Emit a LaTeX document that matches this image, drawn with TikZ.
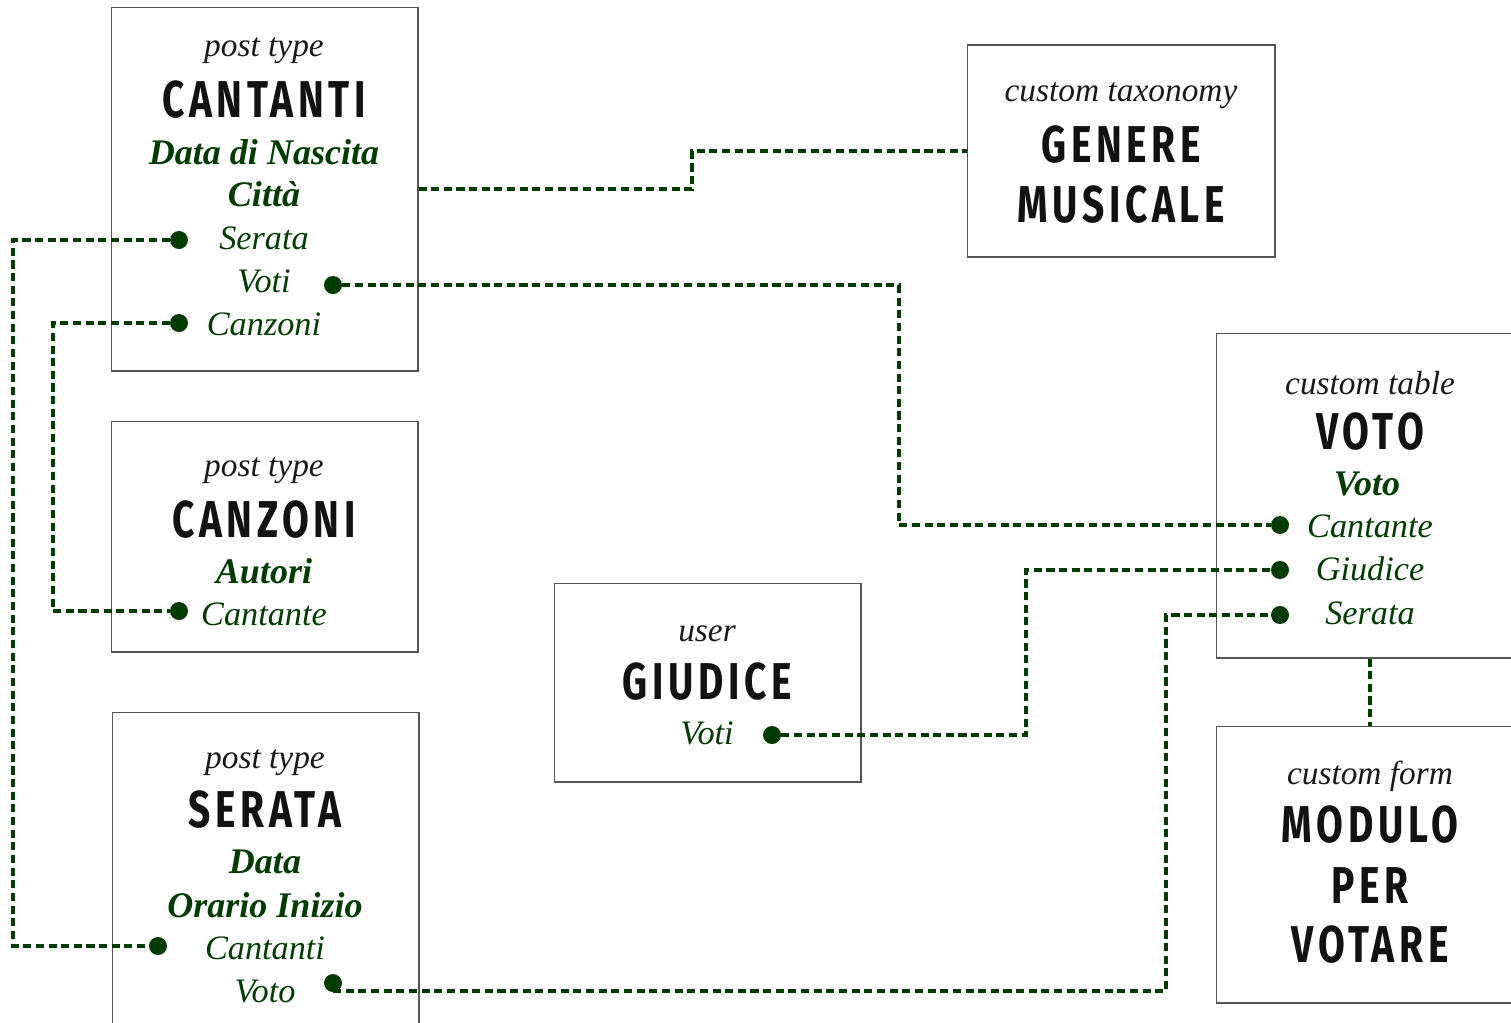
\documentclass[tikz,border=0pt]{standalone}
\usepackage{fontspec}
\setmainfont{Liberation Serif}
\newfontfamily\titlefont{Fira Sans}[FakeStretch=0.75,LetterSpace=9]
\usetikzlibrary{calc}
\definecolor{linkgreen}{RGB}{0,60,0}
\definecolor{boxgray}{RGB}{85,85,85}

\begin{document}
\begin{tikzpicture}[x=0.02cm, y=-0.02cm]

    % Define some common styles
    \tikzset{
        box/.style={draw=boxgray, line width=0.6pt, inner sep=0pt},
        kind/.style={font=\fontsize{19}{19}\selectfont\itshape, text=black!90},
        heading/.style={font=\titlefont\bfseries\fontsize{29.5}{29}\selectfont, text=black!93},
        keyfield/.style={font=\fontsize{20.5}{20}\selectfont\bfseries\itshape, text=linkgreen},
        field/.style={font=\fontsize{19.5}{20}\selectfont\itshape, text=linkgreen},
        dotmark/.style={circle, fill=linkgreen, inner sep=0pt, minimum size=0.36cm},
        relation/.style={linkgreen, line width=1.9pt, dash pattern=on 4.6pt off 2.6pt}
    }

    \useasboundingbox (0,0) rectangle (1511,1022);

    % Post type CANTANTI
    \node[box, minimum width=6.14cm, minimum height=7.28cm] (cantanti) at (264.5,189) {};
    \node[kind] (cantantiK) at (264,51) {post type};
    \node[heading] (cantantiT) at (264,100) {CANTANTI};
    \node[keyfield] (cantantiF1) at (264,152) {Data di Nascita};
    \node[keyfield] (cantantiF2) at (264,194) {Città};
    \node[field] (cantantiF3) at (264,238) {Serata};
    \node[field] (cantantiF4) at (264,281) {Voti};
    \node[field] (cantantiF5) at (264,324) {Canzoni};
    \node[dotmark] (dCantSerata) at (179,240) {};
    \node[dotmark] (dCantVoti) at (333,285) {};
    \node[dotmark] (dCantCanzoni) at (179,323) {};

    % Post type CANZONI
    \node[box, minimum width=6.14cm, minimum height=4.62cm] (canzoni) at (264.5,536.5) {};
    \node[kind] (canzoniK) at (264,471) {post type};
    \node[heading] (canzoniT) at (264,520) {CANZONI};
    \node[keyfield] (canzoniF1) at (264,571) {Autori};
    \node[field] (canzoniF2) at (264,614) {Cantante};
    \node[dotmark] (dCanzCantante) at (179,611) {};

    % Post type SERATA
    \node[box, minimum width=6.14cm, minimum height=7.28cm] (serata) at (265.5,894) {};
    \node[kind] (serataK) at (265,763) {post type};
    \node[heading] (serataT) at (265,810) {SERATA};
    \node[keyfield] (serataF1) at (265,862) {Data};
    \node[keyfield] (serataF2) at (265,905) {Orario Inizio};
    \node[field] (serataF3) at (265,948) {Cantanti};
    \node[field] (serataF4) at (265,992) {Voto};
    \node[dotmark] (dSerCantanti) at (158,946) {};
    \node[dotmark] (dSerVoto) at (333,983) {};

    % Custom taxonomy GENERE MUSICALE
    \node[box, minimum width=6.16cm, minimum height=4.24cm] (genere) at (1121,151) {};
    \node[kind] (genereK) at (1121,96) {custom taxonomy};
    \node[heading] (genereT1) at (1121,145) {GENERE};
    \node[heading] (genereT2) at (1121,205) {MUSICALE};

    % User GIUDICE
    \node[box, minimum width=6.14cm, minimum height=3.98cm] (giudice) at (707.5,682.5) {};
    \node[kind] (giudiceK) at (707,634) {user};
    \node[heading] (giudiceT) at (707,682) {GIUDICE};
    \node[field] (giudiceF1) at (707,733) {Voti};
    \node[dotmark] (dGiuVoti) at (772,735) {};

    % Custom table VOTO
    \node[box, minimum width=6.14cm, minimum height=6.5cm] (voto) at (1370,495.5) {};
    \node[kind] (votoK) at (1370,383) {custom table};
    \node[heading] (votoT) at (1370,432) {VOTO};
    \node[keyfield] (votoF1) at (1367,484) {Voto};
    \node[field] (votoF2) at (1370,526) {Cantante};
    \node[field] (votoF3) at (1370,569) {Giudice};
    \node[field] (votoF4) at (1370,613) {Serata};
    \node[dotmark] (dVotCantante) at (1280,525) {};
    \node[dotmark] (dVotGiudice) at (1280,570) {};
    \node[dotmark] (dVotSerata) at (1280,615) {};

    % Custom form MODULO PER VOTARE
    \node[box, minimum width=6.14cm, minimum height=5.54cm] (modulo) at (1370,864.5) {};
    \node[kind] (moduloK) at (1370,776) {custom form};
    \node[heading] (moduloT1) at (1370,825) {MODULO};
    \node[heading] (moduloT2) at (1370,886) {PER};
    \node[heading] (moduloT3) at (1370,945) {VOTARE};

    % Channels for the dashed relations
    \coordinate (chGenere) at (692,0);
    \coordinate (chSerata) at (13,0);
    \coordinate (chCanzoni) at (53,0);
    \coordinate (chVoti) at (899,0);
    \coordinate (chGiudice) at (1026,0);
    \coordinate (chVoto) at (1166,0);

    % Relations
    \draw[relation] (cantanti.east) -- (cantanti.east -| chGenere) |- (genere.west);
    \draw[relation] (dCantSerata) -- (dCantSerata -| chSerata) |- (dSerCantanti);
    \draw[relation] (dCantCanzoni) -- (dCantCanzoni -| chCanzoni) |- (dCanzCantante);
    \draw[relation] (dCantVoti) -- (dCantVoti -| chVoti) |- (dVotCantante);
    \draw[relation] (dGiuVoti) -- (dGiuVoti -| chGiudice) |- (dVotGiudice);
    \draw[relation] ([yshift=-0.16cm]dSerVoto.center) -- ([yshift=-0.16cm]dSerVoto.center -| chVoto) |- (dVotSerata);
    \draw[relation] (voto.south) -- (modulo.north);

\end{tikzpicture}
\end{document}
